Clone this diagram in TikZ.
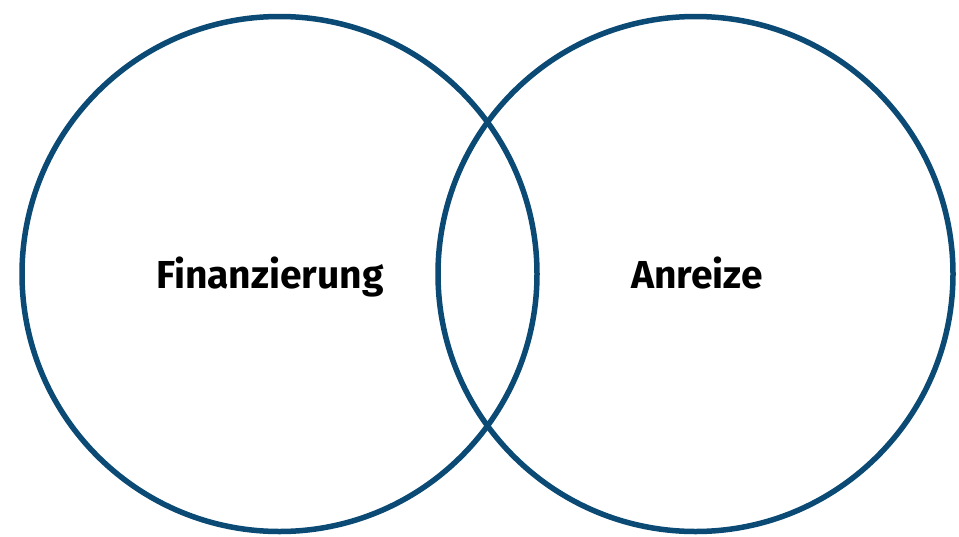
\documentclass[tikz,border=0pt]{standalone}
\usepackage{fontspec}
\setmainfont{Fira Sans}
\definecolor{vennblue}{HTML}{0A4A75}
\begin{document}
\begin{tikzpicture}[x=1pt,y=-1pt,
  ring/.style={draw=vennblue,line width=5.5pt,circle,minimum size=515pt,inner sep=0pt},
  label/.style={font=\fontsize{39}{46}\selectfont\bfseries,text=black,inner sep=0pt,anchor=base}]
\useasboundingbox[fill=white] (0,0) rectangle (959,536);
\node[ring] (left) at (279.5,274) {};
\node[ring] (right) at (695.5,274) {};
\node[label] (fin) at (270,288) {Finanzierung};
\node[label] (anr) at (697,288) {Anreize};
\end{tikzpicture}
\end{document}
